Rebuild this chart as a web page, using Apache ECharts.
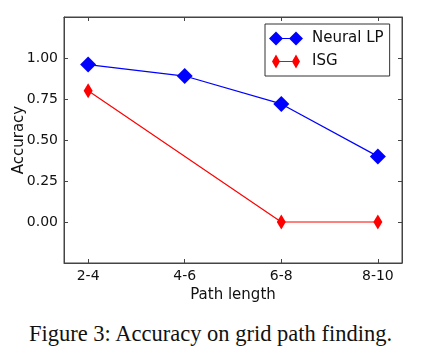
<!DOCTYPE html>
<html>
<head>
<meta charset="utf-8">
<script src="https://cdn.jsdelivr.net/npm/echarts@6/dist/echarts.min.js"></script>
<style>
  html, body { margin: 0; padding: 0; background: #fff; }
  #chart { width: 421px; height: 305px; }
  .caption { font-family: "Liberation Serif", serif; font-size: 22.5px; color: #111; text-align: center; width: 421px; margin-top: 16px; }
</style>
</head>
<body>
<div id="chart"></div>
<div class="caption">Figure 3: Accuracy on grid path finding.</div>
<script>
  const categories = ['2-4', '4-6', '6-8', '8-10']
  const neuralLP = [[0, 0.96], [1, 0.89], [2, 0.72], [3, 0.40]]
  const isg = [[0, 0.80], [2, 0.00], [3, 0.00]]
  const xTicks = [0, 1, 2, 3]
  const yTicks = [0, 0.25, 0.5, 0.75, 1.0]

  const tickFont = { fontFamily: 'DejaVu Sans', fontSize: 14, color: '#111' }
  const nameFont = { fontFamily: 'DejaVu Sans', fontSize: 15, color: '#111' }
  const frame = { show: true, onZero: false, lineStyle: { color: '#444', width: 1 } }

  function ticks(values) {
    return { show: true, inside: true, length: 4, customValues: values, lineStyle: { color: '#444' } }
  }

  const chart = echarts.init(document.getElementById('chart'))
  chart.setOption({
    animation: false,
    grid: {
      left: 64, top: 17, width: 338, height: 246,
      containLabel: false, outerBoundsMode: 'none',
      show: true, borderColor: '#444', borderWidth: 1
    },
    legend: {
      orient: 'vertical',
      left: 265,
      top: 24,
      padding: [7, 6, 7, 4],
      itemGap: 8,
      itemWidth: 34,
      itemHeight: 14,
      borderColor: '#333',
      borderWidth: 1,
      textStyle: { fontFamily: 'DejaVu Sans', fontSize: 15, color: '#111', padding: [0, 0, 0, 4] },
      data: [
        { name: 'Neural LP', icon: 'path://M0 7L7 0L14 7L7 14ZM20 7L27 0L34 7L27 14ZM7 6.4L27 6.4L27 7.6L7 7.6Z' },
        { name: 'ISG', icon: 'path://M3 7L7 0L11 7L7 14ZM23 7L27 0L31 7L27 14ZM7 6.4L27 6.4L27 7.6L7 7.6Z' }
      ]
    },
    xAxis: [
      {
        type: 'value', min: -0.25, max: 3.25,
        name: 'Path length', nameLocation: 'middle', nameGap: 22,
        nameTextStyle: nameFont,
        axisLine: frame,
        axisTick: ticks(xTicks),
        axisLabel: Object.assign({ customValues: xTicks, formatter: v => categories[Math.round(v)], margin: 6 }, tickFont),
        splitLine: { show: false }
      },
      {
        type: 'value', min: -0.25, max: 3.25, position: 'top',
        axisLine: frame,
        axisTick: ticks(xTicks),
        axisLabel: { show: false },
        splitLine: { show: false }
      }
    ],
    yAxis: [
      {
        type: 'value', min: -0.25, max: 1.25,
        name: 'Accuracy', nameLocation: 'middle', nameGap: 37, nameMoveOverlap: false,
        nameTextStyle: nameFont,
        axisLine: frame,
        axisTick: ticks(yTicks),
        axisLabel: Object.assign({ customValues: yTicks, formatter: v => v.toFixed(2), margin: 6 }, tickFont),
        splitLine: { show: false }
      },
      {
        type: 'value', min: -0.25, max: 1.25, position: 'right',
        axisLine: frame,
        axisTick: ticks(yTicks),
        axisLabel: { show: false },
        splitLine: { show: false }
      }
    ],
    series: [
      {
        name: 'Neural LP', type: 'line', data: neuralLP,
        color: '#0000ff',
        symbol: 'diamond', symbolSize: [16, 16],
        lineStyle: { width: 1.2, color: '#0000ff' },
        itemStyle: { color: '#0000ff' }
      },
      {
        name: 'ISG', type: 'line', data: isg,
        color: '#ff0000',
        symbol: 'diamond', symbolSize: [9, 15],
        lineStyle: { width: 1.2, color: '#ff0000' },
        itemStyle: { color: '#ff0000' }
      }
    ]
  })
</script>
</body>
</html>
